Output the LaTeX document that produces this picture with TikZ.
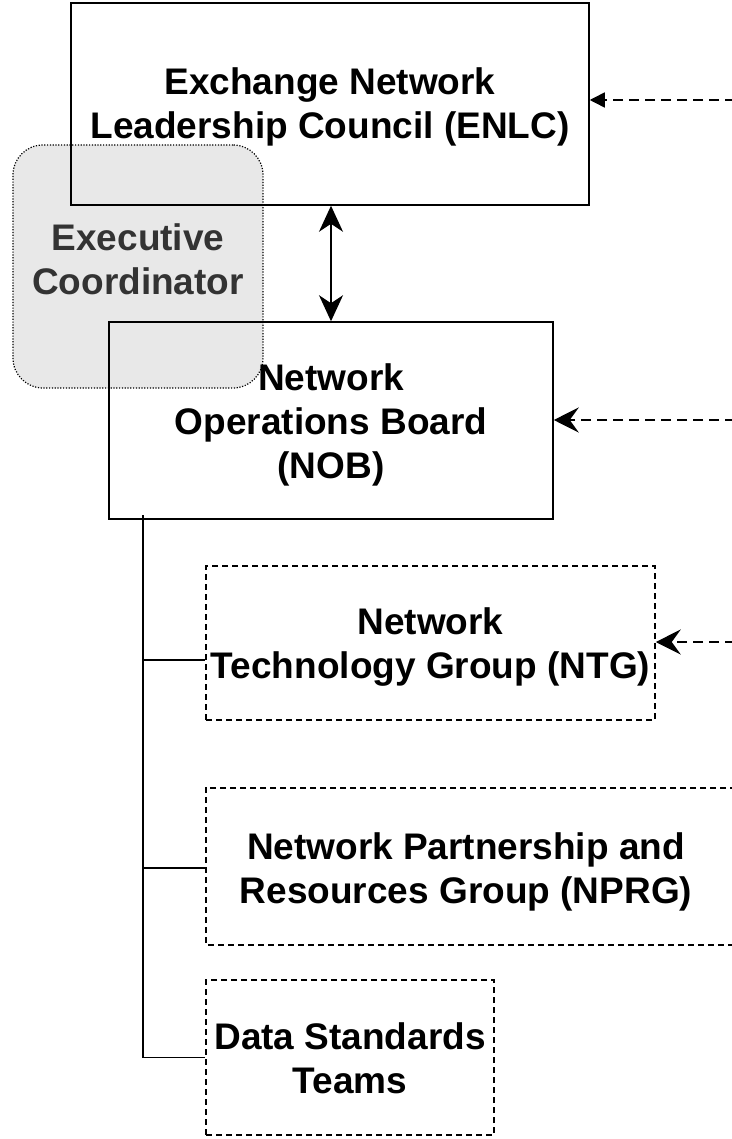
\documentclass[tikz,border=0pt]{standalone}
\usepackage{fontspec}
\setmainfont{Liberation Sans}
\usetikzlibrary{arrows.meta}
\definecolor{execfill}{HTML}{E8E8E8}
\definecolor{exectext}{HTML}{333333}
\newcommand{\tlines}[2]{\raisebox{#1}[\height][\depth]{\begin{tabular}{@{}c@{}}#2\end{tabular}}}
\begin{document}
\begin{tikzpicture}[x=1pt,y=-1pt,
  lbl/.style={font=\bfseries\fontsize{37}{44}\selectfont, inner sep=0pt},
  solidbox/.style={lbl, draw, line width=1.5pt},
  dashbox/.style={lbl, draw, line width=1.5pt, dash pattern=on 6pt off 4pt},
  execbox/.style={lbl, draw, fill=execfill, text=exectext, line width=1.2pt,
    dash pattern=on 1.2pt off 1.6pt, rounded corners=30pt},
  tree/.style={line width=1.5pt},
  darr/.style={line width=1.5pt, dash pattern=on 10pt off 6pt},
  bigtip/.style={-{Stealth[length=25pt,width=25pt,inset=9pt]}}
]
\useasboundingbox (0,0) rectangle (731,1139);
% executive coordinator (behind)
\node[execbox, minimum width=250pt, minimum height=243pt] (exec) at (138,266.5) {\tlines{3pt}{Executive\\Coordinator}};
% main boxes
\node[solidbox, minimum width=518pt, minimum height=202pt] (enlc) at (330,104) {\tlines{-4pt}{Exchange Network\\Leadership Council (ENLC)}};
\node[solidbox, minimum width=444pt, minimum height=197pt] (nob) at (331,420.5) {\tlines{-5pt}{Network\\Operations Board\\(NOB)}};
\node[dashbox, minimum width=449pt, minimum height=154pt] (ntg) at (430.5,643) {\tlines{-5pt}{Network\\Technology Group (NTG)}};
\node[lbl, minimum width=520pt, minimum height=157pt] (nprg) at (466,866.5) {\tlines{-6pt}{Network Partnership and\\Resources Group (NPRG)}};
\draw[line width=1.5pt, dash pattern=on 6pt off 4pt]
  ([xshift=40pt]nprg.north east) -- (nprg.north west) -- (nprg.south west) -- ([xshift=40pt]nprg.south east);
\node[dashbox, minimum width=288pt, minimum height=155pt] (dst) at (350,1057.5) {\tlines{-5pt}{Data Standards\\Teams}};
% bidirectional arrow
\draw[line width=1.3pt, {Stealth[length=26pt,width=24pt,inset=8pt]}-{Stealth[length=26pt,width=24pt,inset=8pt]}]
  ([xshift=1pt]enlc.south) -- ([xshift=0pt]nob.north);
% tree
\coordinate (t0) at (143,515);
\coordinate (t1) at (143,660);
\coordinate (t2) at (143,868);
\draw[tree] (t0) |- (dst.west);
\draw[tree] (t1) -- (ntg.west |- t1);
\draw[tree] (t2) -- (nprg.west |- t2);
% incoming dashed arrows
\coordinate (r1) at (735,100);
\coordinate (r2) at (735,420);
\coordinate (r3) at (735,642);
\draw[darr, -{Triangle[length=15pt,width=15pt]}] (r1) -- (enlc.east |- r1);
\draw[darr, bigtip] (r2) -- (nob.east |- r2);
\draw[darr, bigtip] (r3) -- (ntg.east |- r3);
\end{tikzpicture}
\end{document}
